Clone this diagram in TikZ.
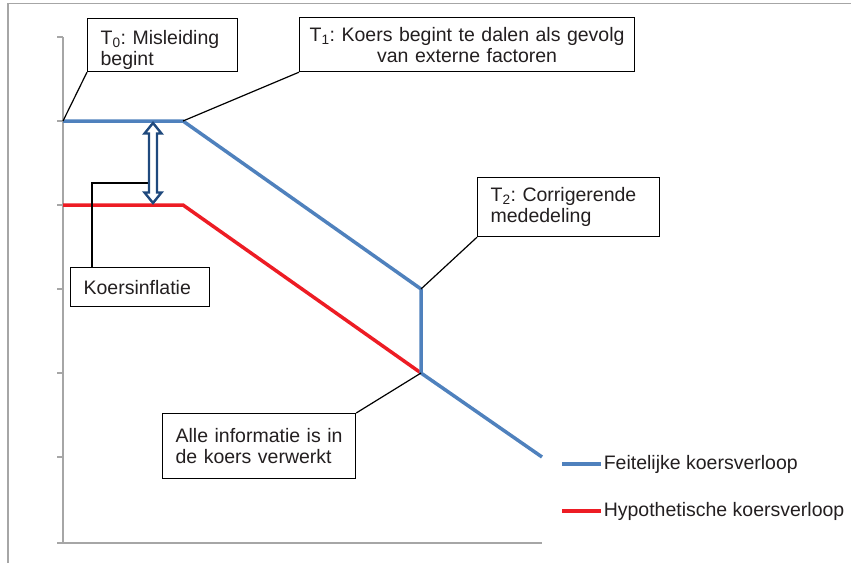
\documentclass[tikz,border=0pt]{standalone}
\usepackage{fontspec}
\setmainfont{Liberation Sans}
\usetikzlibrary{arrows.meta,calc,positioning}
\definecolor{koersblue}{HTML}{4F81BD}
\definecolor{koersred}{HTML}{ED1C24}
\definecolor{pijlblue}{HTML}{1F497D}
\definecolor{assegray}{HTML}{A6A6A6}
\definecolor{tekst}{HTML}{231F20}
\frenchspacing

\begin{document}
\begin{tikzpicture}[x=1pt,y=-1pt,
  callout/.style={draw,line width=1.2pt,fill=white,anchor=north west,inner xsep=13pt,inner ysep=0pt,align=left,text=tekst,font=\fontsize{19.5}{21}\selectfont},
  pointer/.style={line width=1.2pt},
  koers/.style={line width=3.5pt},
  as/.style={assegray,line width=1.5pt},
  legtext/.style={anchor=west,text=tekst,font=\fontsize{19.5}{21}\selectfont,inner sep=1pt}]
\useasboundingbox (0,0) rectangle (851,563);
% frame and axes
\draw[as] (8,563) -- (8,3.5) -- (851,3.5);
\draw[as] (63,37) -- (63,543) -- (57,543);
\draw[as] (63,543) -- (542,543);
\foreach \y in {37,121,205,289,373,457} \draw[as] (57,\y) -- (63,\y);
% koersverloop
\coordinate (b0) at (63,121); \coordinate (b1) at (183,121); \coordinate (b2) at (421,289);
\coordinate (b3) at (421,373); \coordinate (b4) at (542,457);
\coordinate (r0) at (63,205); \coordinate (r1) at (183,205);
\draw[koers,koersred] (r0) -- (r1) -- (b3);
\draw[koers,koersblue,line join=round] (b0) -- (b1) -- (b2) -- (b3) -- (b4);
% callouts
\node[callout,text width=124pt,minimum height=53pt] (t0) at (87,18) {\rule{0pt}{24pt}T\textsubscript{0}: Misleiding\\begint};
\node[callout,inner xsep=5pt,text width=325pt,minimum height=54pt,align=center] (t1) at (299,17) {T\textsubscript{1}: Koers begint te dalen als gevolg\\van externe factoren};
\node[callout,text width=156pt,minimum height=59pt] (t2) at (477,177) {T\textsubscript{2}: Corrigerende\\mededeling};
\node[callout,text width=113pt,minimum height=39pt] (kinfl) at (70,267) {Koersinflatie};
\node[callout,text width=167pt,minimum height=65pt] (alle) at (162,413) {Alle informatie is in\\de koers verwerkt};
\coordinate (inftop) at (153,123); \coordinate (inflpunt) at (149,183);
\draw[pointer] (t0.south west) -- (b0);
\draw[pointer] (t1.south west) -- (b1);
\draw[pointer] (t2.south west) -- (b2);
\draw[pointer] (alle.north east) -- (b3);
\draw[pointer] ($(kinfl.north west)+(22,0)$) |- (inflpunt);
% koersinflatie pijl
\draw[pijlblue,line width=2.4pt,fill=white] (inftop) -- ++(8.5,10.5) -- ++(-4.5,0) -- ++(0,59) -- ++(4.5,0) -- ++(-8.5,10.5) -- ++(-8.5,-10.5) -- ++(4.5,0) -- ++(0,-59) -- ++(-4.5,0) -- cycle;
% legenda
\coordinate (legf) at (562,464); \coordinate (legh) at (562,511);
\draw[koers,koersblue] (legf) -- ++(39,0) node[legtext] (legft) {Feitelijke koersverloop};
\draw[koers,koersred] (legh) -- ++(39,0) node[legtext] (leght) {Hypothetische koersverloop};
\end{tikzpicture}
\end{document}
